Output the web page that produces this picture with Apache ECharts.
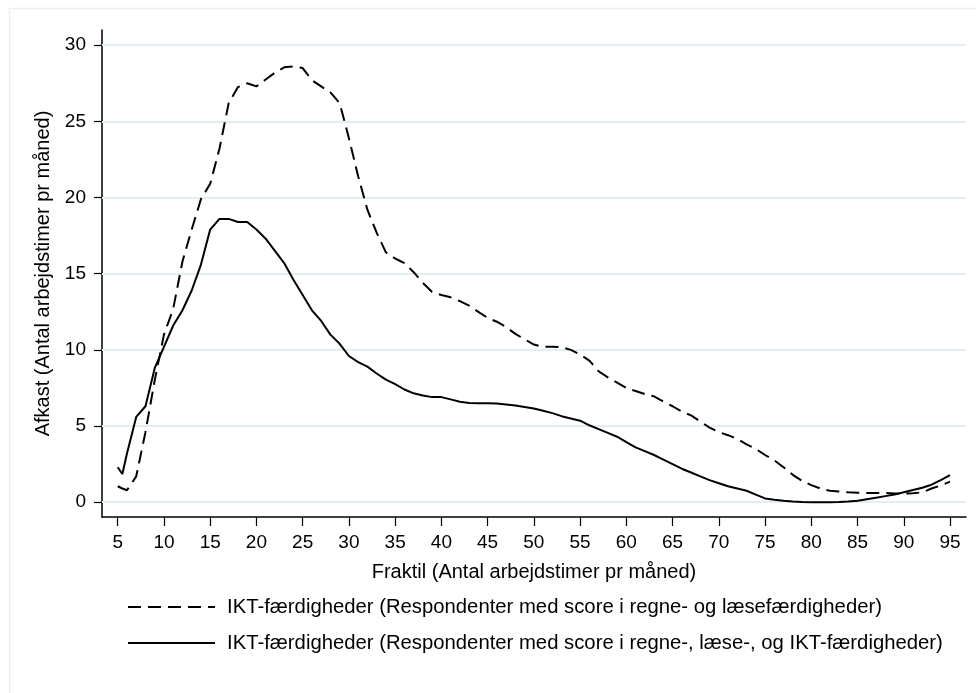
<!DOCTYPE html>
<html>
<head>
<meta charset="utf-8">
<script src="https://cdn.jsdelivr.net/npm/echarts@6/dist/echarts.min.js"></script>
<style>
  html, body { margin: 0; padding: 0; background: #fff; }
  #main { width: 976px; height: 693px; }
</style>
</head>
<body>
<div id="main"></div>
<script>
// fraktil (x) og afkast for de to grupper
const fraktil = [5, 5.5, 6, 7, 8, 9, 10, 11, 12, 13, 14, 15, 16, 17, 18, 19, 20, 21, 22, 23, 24, 25,
    26, 27, 28, 29, 30, 31, 32, 33, 34, 35, 36, 37, 38, 39, 40, 41, 42, 43, 44, 45, 46, 47, 48, 49, 50,
    51, 52, 53, 54, 55, 56, 57, 58, 59, 60, 61, 62, 63, 64, 65, 66, 67, 68, 69, 70, 71, 72, 73, 74, 75,
    76, 77, 78, 79, 80, 81, 82, 83, 84, 85, 86, 87, 88, 89, 90, 91, 92, 93, 94, 95];

const regneLaese = [1.05, 0.9, 0.79, 1.7, 4.6, 8.0, 11.0, 12.7, 15.8, 17.9, 19.9, 20.9, 23.2, 26.2, 27.25, 27.5, 27.3, 27.75, 28.2, 28.55, 28.6, 28.5,
    27.7, 27.3, 26.9, 26.2, 23.9, 21.4, 19.2, 17.7, 16.4, 16.0, 15.7, 15.1, 14.4, 13.8, 13.6, 13.45, 13.2, 12.9, 12.5, 12.1, 11.85, 11.5, 11.05, 10.7, 10.35,
    10.2, 10.2, 10.18, 10.0, 9.7, 9.3, 8.6, 8.2, 7.85, 7.5, 7.3, 7.1, 6.95, 6.6, 6.3, 5.95, 5.7, 5.3, 4.9, 4.6, 4.4, 4.15, 3.8, 3.5, 3.1,
    2.75, 2.3, 1.8, 1.4, 1.12, 0.9, 0.75, 0.7, 0.65, 0.62, 0.6, 0.6, 0.6, 0.58, 0.57, 0.59, 0.65, 0.9, 1.1, 1.35];

const regneLaeseIkt = [2.3, 1.85, 3.2, 5.6, 6.3, 8.8, 10.2, 11.6, 12.6, 13.9, 15.6, 17.9, 18.6, 18.6, 18.4, 18.4, 17.9, 17.3, 16.5, 15.7, 14.6, 13.6,
    12.6, 11.9, 11.0, 10.4, 9.6, 9.2, 8.9, 8.45, 8.05, 7.75, 7.4, 7.15, 7.0, 6.9, 6.9, 6.75, 6.6, 6.52, 6.5, 6.5, 6.48, 6.42, 6.35, 6.25, 6.15,
    6.0, 5.85, 5.65, 5.5, 5.35, 5.05, 4.8, 4.55, 4.3, 3.95, 3.6, 3.35, 3.1, 2.8, 2.5, 2.2, 1.95, 1.7, 1.45, 1.25, 1.05, 0.9, 0.75, 0.5, 0.25,
    0.17, 0.1, 0.05, 0.02, 0.0, 0.0, 0.0, 0.02, 0.05, 0.1, 0.2, 0.3, 0.4, 0.5, 0.65, 0.8, 0.95, 1.15, 1.45, 1.78];

const xTicks = [5, 10, 15, 20, 25, 30, 35, 40, 45, 50, 55, 60, 65, 70, 75, 80, 85, 90, 95];
const yTicks = [0, 5, 10, 15, 20, 25, 30];

const navne = [
    'IKT-færdigheder (Respondenter med score i regne- og læsefærdigheder)',
    'IKT-færdigheder (Respondenter med score i regne-, læse-, og IKT-færdigheder)'
];

const font = 'Liberation Sans, Arial, sans-serif';
const gridColor = '#e4edf1';

const chart = echarts.init(document.getElementById('main'), null, { renderer: 'canvas' });

const option = {
    backgroundColor: '#ffffff',
    animation: false,
    graphic: [{
        type: 'rect',
        left: 7,
        top: 6,
        shape: { width: 990, height: 720 },
        style: { fill: 'none', stroke: '#eaf0f2', lineWidth: 1.5 },
        z: -1
    }],
    grid: {
        left: 102,
        right: 10,
        top: 30,
        bottom: 176
    },
    legend: {
        orient: 'vertical',
        left: 122,
        top: 592,
        itemWidth: 87,
        itemHeight: 14,
        itemGap: 16,
        selectedMode: false,
        itemStyle: { opacity: 0 },
        textStyle: {
            fontFamily: font,
            fontSize: 20.3,
            color: '#000',
            padding: [0, 0, 0, 7]
        },
        data: navne
    },
    xAxis: {
        type: 'value',
        min: 3.3,
        max: 96.73,
        name: 'Fraktil (Antal arbejdstimer pr måned)',
        nameLocation: 'middle',
        nameGap: 45,
        nameTextStyle: { fontFamily: font, fontSize: 20, color: '#000' },
        axisLine: { show: true, onZero: false, lineStyle: { color: '#000', width: 1.5 } },
        axisTick: { show: true, length: 9, customValues: xTicks, lineStyle: { color: '#000', width: 1.2 } },
        axisLabel: { customValues: xTicks, margin: 16, fontFamily: font, fontSize: 19, color: '#000' },
        splitLine: { show: false }
    },
    yAxis: {
        type: 'value',
        min: -0.97,
        max: 31.0,
        name: 'Afkast (Antal arbejdstimer pr måned)',
        nameLocation: 'middle',
        nameGap: 42,
        nameTextStyle: { fontFamily: font, fontSize: 20, color: '#000' },
        axisLine: { show: true, onZero: false, lineStyle: { color: '#000', width: 1.5 } },
        axisTick: { show: true, length: 8, customValues: yTicks, lineStyle: { color: '#000', width: 1.2 } },
        axisLabel: { customValues: yTicks, margin: 16, fontFamily: font, fontSize: 19, color: '#000' },
        splitLine: { show: false }
    },
    series: [{
        name: navne[0],
        type: 'line',
        symbol: 'none',
        data: fraktil.map((x, i) => [x, regneLaese[i]]),
        lineStyle: { color: '#000', width: 2, type: [13, 7] },
        itemStyle: { color: '#000' },
        z: 3,
        // gitterlinjer
        markLine: {
            silent: true,
            symbol: 'none',
            label: { show: false },
            lineStyle: { color: gridColor, width: 2, type: 'solid' },
            z: 1,
            data: yTicks.map(v => ({ yAxis: v }))
        }
    }, {
        name: navne[1],
        type: 'line',
        symbol: 'none',
        data: fraktil.map((x, i) => [x, regneLaeseIkt[i]]),
        lineStyle: { color: '#000', width: 2 },
        itemStyle: { color: '#000' },
        z: 3
    }]
};

chart.setOption(option);
</script>
</body>
</html>
